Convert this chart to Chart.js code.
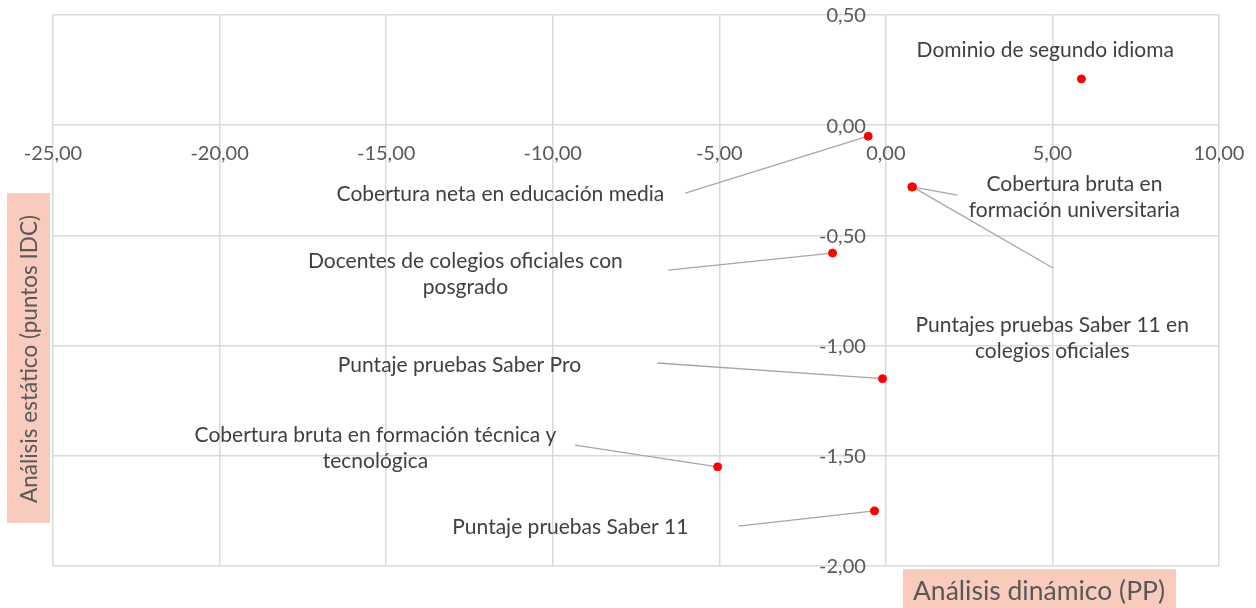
<!DOCTYPE html>
<html>
<head>
<meta charset="utf-8">
<script src="https://cdn.jsdelivr.net/npm/chart.js@4.4.1/dist/chart.umd.min.js"></script>
<style>
  html, body { margin: 0; padding: 0; background: #ffffff; }
  #wrap { width: 1256px; height: 608px; position: relative; }
</style>
</head>
<body>
<div id="wrap"><canvas id="c" width="1256" height="608"></canvas></div>
<script>
// ---- Data ----
const categories = [
  "Dominio de segundo idioma",
  "Cobertura neta en educación media",
  "Cobertura bruta en formación universitaria",
  "Docentes de colegios oficiales con posgrado",
  "Puntajes pruebas Saber 11 en colegios oficiales",
  "Puntaje pruebas Saber Pro",
  "Cobertura bruta en formación técnica y tecnológica",
  "Puntaje pruebas Saber 11"
];
const dynamicValues = [5.87, -0.53, 0.78, -1.60, 0.80, -0.10, -5.05, -0.34];   // x: Análisis dinámico (PP)
const staticValues  = [0.21, -0.05, -0.28, -0.58, -0.28, -1.15, -1.55, -1.75]; // y: Análisis estático (puntos IDC)
const xTicks = [-25, -20, -15, -10, -5, 0, 5, 10];
const yTicks = [0.5, 0, -0.5, -1, -1.5, -2];
const xTitle = "Análisis dinámico (PP)";
const yTitle = "Análisis estático (puntos IDC)";

// ---- Annotation layout (text placement in data space, leader start) ----
const labelLayout = [
  { lines: ["Dominio de segundo idioma"], at: [4.785, 0.341], align: "center", leader: null },
  { lines: ["Cobertura neta en educación media"], at: [-11.57, -0.311], align: "center", leader: [-6.02, -0.308] },
  { lines: ["Cobertura bruta en", "formación universitaria"], at: [5.66, -0.327], align: "center", leader: [2.15, -0.317] },
  { lines: ["Docentes de colegios oficiales con", "posgrado"], at: [-12.62, -0.674], align: "center", leader: [-6.53, -0.658] },
  { lines: ["Puntajes pruebas Saber 11 en", "colegios oficiales"], at: [4.995, -0.966], align: "center", leader: [5.03, -0.649] },
  { lines: ["Puntaje pruebas Saber Pro"], at: [-12.80, -1.090], align: "center", leader: [-6.86, -1.079] },
  { lines: ["Cobertura bruta en formación técnica y", "tecnológica"], at: [-15.32, -1.465], align: "center", leader: [-9.33, -1.452] },
  { lines: ["Puntaje pruebas Saber 11"], at: [-9.47, -1.823], align: "center", leader: [-4.43, -1.819] }
];

const FONT = "Lato, 'Open Sans', sans-serif";
const fmt = v => (Math.abs(v) < 1e-9 ? 0 : v).toFixed(2).replace('.', ',');

const overlayPlugin = {
  id: 'overlay',
  beforeDatasetsDraw(chart) {
    const ctx = chart.ctx, xs = chart.scales.x, ys = chart.scales.y;
    ctx.save();
    ctx.strokeStyle = '#a6a6a6';
    ctx.lineWidth = 1.3;
    labelLayout.forEach((l, i) => {
      if (!l.leader) return;
      ctx.beginPath();
      ctx.moveTo(xs.getPixelForValue(l.leader[0]), ys.getPixelForValue(l.leader[1]));
      ctx.lineTo(xs.getPixelForValue(dynamicValues[i]), ys.getPixelForValue(staticValues[i]));
      ctx.stroke();
    });
    ctx.restore();
  },
  afterDatasetsDraw(chart) {
    const ctx = chart.ctx, xs = chart.scales.x, ys = chart.scales.y;
    ctx.save();
    // tick labels
    ctx.fillStyle = '#595959';
    ctx.font = "20px " + FONT;
    ctx.textBaseline = 'middle';
    const y0 = ys.getPixelForValue(0), x0 = xs.getPixelForValue(0);
    ctx.textAlign = 'center';
    xTicks.forEach(v => ctx.fillText(fmt(v), xs.getPixelForValue(v), y0 + 28));
    ctx.textAlign = 'right';
    yTicks.forEach(v => ctx.fillText(fmt(v), x0 - 20, ys.getPixelForValue(v) + 1));
    // point labels
    ctx.fillStyle = '#404040';
    ctx.font = "21px " + FONT;
    const lh = 26;
    labelLayout.forEach(l => {
      const px = xs.getPixelForValue(l.at[0]);
      const py = ys.getPixelForValue(l.at[1]);
      ctx.textAlign = l.align;
      const n = l.lines.length;
      l.lines.forEach((t, k) => ctx.fillText(t, px, py + (k - (n - 1) / 2) * lh));
    });
    // x title
    ctx.fillStyle = '#f8cbbd';
    ctx.fillRect(903, 569, 273, 39);
    ctx.fillStyle = '#595959';
    ctx.textAlign = 'center';
    ctx.font = "26.5px " + FONT;
    ctx.fillText(xTitle, 1039, 591);
    // y title
    ctx.fillStyle = '#f8cbbd';
    ctx.fillRect(7, 193, 43, 330);
    ctx.save();
    ctx.translate(30, 359);
    ctx.rotate(-Math.PI / 2);
    ctx.fillStyle = '#595959';
    ctx.textAlign = 'center';
    ctx.font = "22.5px " + FONT;
    ctx.fillText(yTitle, 0, 0);
    ctx.restore();
    ctx.restore();
  }
};

new Chart(document.getElementById('c'), {
  type: 'scatter',
  data: {
    datasets: [{
      label: 'Indicadores',
      data: dynamicValues.map((x, i) => ({ x, y: staticValues[i], name: categories[i] })),
      backgroundColor: '#ff0000',
      borderColor: '#ff0000',
      pointRadius: 4,
      pointHoverRadius: 4
    }]
  },
  options: {
    responsive: false,
    animation: false,
    events: [],
    layout: { padding: { left: 53, top: 15, right: 37, bottom: 42 } },
    plugins: { legend: { display: false }, tooltip: { enabled: false } },
    scales: {
      x: {
        type: 'linear',
        min: xTicks[0], max: xTicks[xTicks.length - 1],
        position: { y: 0 },
        afterBuildTicks: s => { s.ticks = xTicks.map(v => ({ value: v })); },
        ticks: { display: false },
        grid: { color: '#d9d9d9', lineWidth: 1.5, drawTicks: false },
        border: { display: false }
      },
      y: {
        type: 'linear',
        min: yTicks[yTicks.length - 1], max: yTicks[0],
        position: { x: 0 },
        afterBuildTicks: s => { s.ticks = yTicks.map(v => ({ value: v })); },
        ticks: { display: false },
        grid: { color: '#d9d9d9', lineWidth: 1.5, drawTicks: false },
        border: { display: false }
      }
    }
  },
  plugins: [overlayPlugin]
});
</script>
</body>
</html>
